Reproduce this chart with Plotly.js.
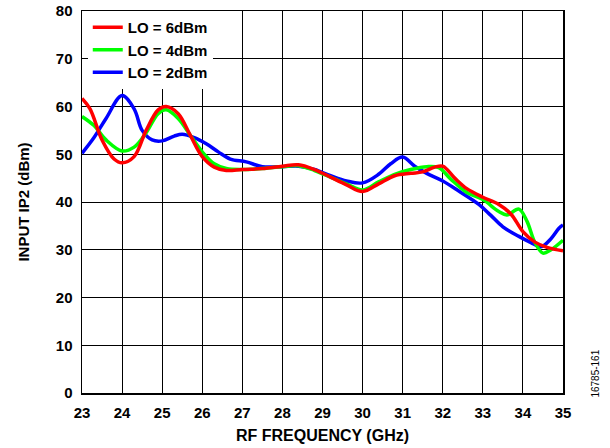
<!DOCTYPE html>
<html><head><meta charset="utf-8">
<script src="https://cdn.plot.ly/plotly-3.0.1.min.js"></script>
<style>html,body{margin:0;padding:0;background:#fff}#c{width:610px;height:448px}</style>
</head><body><div id="c"></div>
<script>
const xRed = [23.0,23.2,23.5,23.8,24.0,24.3,24.6,24.9,25.1,25.4,25.7,26.0,26.3,26.6,27.0,27.5,28.0,28.4,28.8,29.2,29.6,30.0,30.4,30.8,31.2,31.5,31.8,32.0,32.3,32.6,33.0,33.4,33.7,34.0,34.3,34.6,35.0];
const yRed = [61.7,59.5,53.0,49.0,48.2,49.5,55.0,59.3,60.0,58.5,54.0,49.5,47.3,46.6,46.8,47.0,47.5,47.8,46.8,45.2,43.6,42.2,43.8,45.5,46.0,46.3,47.3,47.5,45.0,42.8,41.0,39.5,37.5,33.8,31.6,30.5,29.8];
const xGreen = [23.0,23.3,23.6,24.0,24.3,24.6,24.9,25.1,25.4,25.7,26.0,26.3,26.6,27.0,27.5,28.0,28.4,28.8,29.2,29.6,30.0,30.4,30.8,31.2,31.6,31.9,32.2,32.6,33.0,33.4,33.6,33.9,34.1,34.3,34.5,34.7,35.0];
const yGreen = [57.9,56.0,53.0,50.7,51.5,54.5,58.5,59.3,57.5,54.0,50.5,48.0,47.0,46.8,47.0,47.4,47.6,46.6,45.2,43.8,42.5,44.2,45.8,46.8,47.4,47.2,44.8,42.0,40.5,38.0,37.3,38.5,36.0,31.5,29.3,30.0,32.0];
const xBlue = [23.0,23.3,23.6,24.0,24.3,24.5,24.75,25.0,25.3,25.5,25.8,26.1,26.4,26.7,27.1,27.5,28.0,28.4,28.8,29.2,29.6,30.0,30.4,30.7,31.0,31.3,31.6,32.0,32.4,32.9,33.2,33.5,33.9,34.2,34.45,34.7,34.9,35.0];
const yBlue = [50.2,53.5,57.5,62.3,59.5,55.0,53.0,52.8,53.8,54.2,53.5,52.2,50.5,49.0,48.4,47.4,47.4,47.5,46.8,45.5,44.4,44.0,45.8,48.0,49.4,47.5,46.0,44.4,42.3,39.5,37.2,34.8,32.8,31.5,30.6,32.3,34.5,35.2];
const seriesNames = ["LO = 2dBm","LO = 4dBm","LO = 6dBm"];
const xTicks = [23,24,25,26,27,28,29,30,31,32,33,34,35];
const yTicks = [0,10,20,30,40,50,60,70,80];

const F = "Liberation Sans, Arial, sans-serif";
const mk = (x,y,name,color)=>({x:x,y:y,name:name,type:'scatter',mode:'lines',
  line:{color:color,width:3.5,shape:'spline',smoothing:1}});
const data = [
  mk(xBlue,yBlue,seriesNames[0],'#0000ff'),
  mk(xGreen,yGreen,seriesNames[1],'#00ff00'),
  mk(xRed,yRed,seriesNames[2],'#ff0000')
];
const layout = {
  width:610,height:448,
  margin:{l:82,r:47,t:11,b:55},
  paper_bgcolor:'#fff',plot_bgcolor:'#fff',
  font:{family:F,color:'#000',size:13,weight:'bold'},
  showlegend:true,
  legend:{x:0.012,y:1.0,xanchor:'left',yanchor:'top',bgcolor:'#fff',borderwidth:0,
    traceorder:'reversed',font:{family:F,size:15,weight:'bold',color:'#000'},tracegroupgap:0,
    itemwidth:30},
  xaxis:{range:[23,35],tickvals:xTicks,ticktext:xTicks.map(String),showgrid:true,gridcolor:'#000',gridwidth:1,
    showline:true,linecolor:'#000',linewidth:1.5,mirror:true,zeroline:false,ticks:'',
    ticklabelstandoff:5,
    tickfont:{family:F,size:15,weight:'bold'},
    title:{text:'RF FREQUENCY (GHz)',font:{family:F,size:16,weight:'bold'},standoff:10}},
  yaxis:{range:[0,80],tickvals:yTicks,ticktext:yTicks.map(String),showgrid:true,gridcolor:'#000',gridwidth:1,
    showline:true,linecolor:'#000',linewidth:1.5,mirror:true,zeroline:false,ticks:'',
    ticklabelstandoff:5,
    tickfont:{family:F,size:15,weight:'bold'},
    title:{text:'INPUT IP2 (dBm)',font:{family:F,size:15,weight:'bold'},standoff:22}},
  annotations:[{text:'16785-161',xref:'paper',yref:'paper',x:1.068,y:0.05,textangle:-90,
    showarrow:false,font:{family:F,size:10,weight:'normal',color:'#000'},xanchor:'center',yanchor:'middle'}]
};
Plotly.newPlot('c',data,layout,{displayModeBar:false,staticPlot:true});
</script></body></html>
